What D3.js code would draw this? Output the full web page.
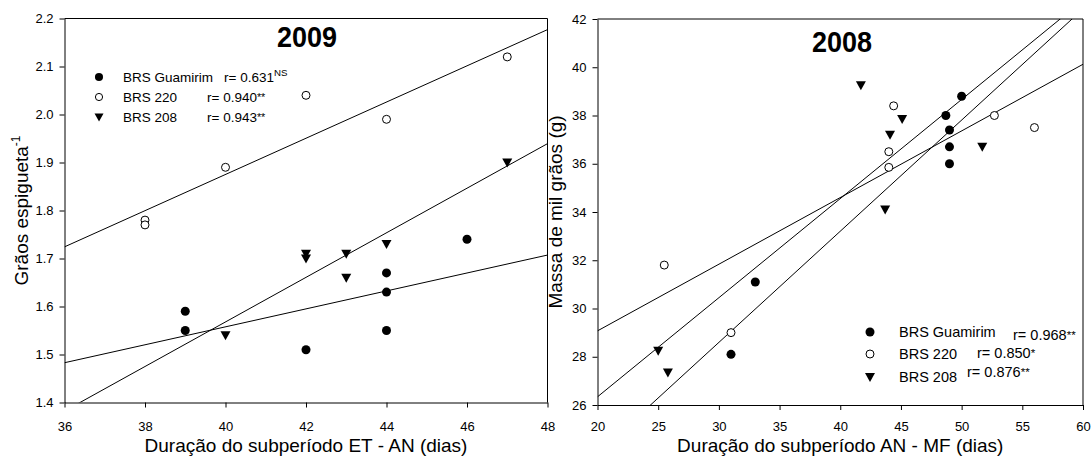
<!DOCTYPE html>
<html><head><meta charset="utf-8">
<script src="https://cdn.jsdelivr.net/npm/d3@7"></script>
<style>
body{margin:0;background:#fff}
svg{display:block;background:#fff}
text{font-family:Arial,"Liberation Sans",sans-serif;fill:#000}
</style>
</head><body>
<svg id="c" width="1091" height="459"></svg>
<script>
// ---------- DATA ----------
const seriesNames = ["BRS Guamirim", "BRS 220", "BRS 208"];

// 2009 panel: grains per spikelet vs ET-AN duration
const x2009Guamirim = [39, 39, 42, 44, 44, 44, 46];
const y2009Guamirim = [1.59, 1.55, 1.51, 1.67, 1.63, 1.55, 1.74];
const x2009BRS220 = [38, 38, 40, 42, 44, 47];
const y2009BRS220 = [1.78, 1.77, 1.89, 2.04, 1.99, 2.12];
const x2009BRS208 = [40, 42, 42, 43, 43, 44, 47];
const y2009BRS208 = [1.54, 1.71, 1.70, 1.71, 1.66, 1.73, 1.90];
const r2009 = ["0.631", "0.940", "0.943"];
const sig2009 = ["NS", "**", "**"];
const xTicks2009 = [36, 38, 40, 42, 44, 46, 48];
const yTicks2009 = [1.4, 1.5, 1.6, 1.7, 1.8, 1.9, 2.0, 2.1, 2.2];

// 2008 panel: thousand grain mass vs AN-MF duration
const x2008Guamirim = [50, 48.7, 49, 49, 49, 33, 31];
const y2008Guamirim = [38.8, 38.0, 37.4, 36.7, 36.0, 31.1, 28.1];
const x2008BRS220 = [44.4, 44, 44, 52.7, 56, 25.5, 31];
const y2008BRS220 = [38.4, 36.5, 35.85, 38.0, 37.5, 31.8, 29.0];
const x2008BRS208 = [41.7, 45.1, 44.1, 51.7, 43.7, 25, 25.8];
const y2008BRS208 = [39.25, 37.85, 37.2, 36.7, 34.1, 28.25, 27.35];
const r2008 = ["0.968", "0.850", "0.876"];
const sig2008 = ["**", "*", "**"];
const xTicks2008 = [20, 25, 30, 35, 40, 45, 50, 55, 60];
const yTicks2008 = [26, 28, 30, 32, 34, 36, 38, 40, 42];

// ---------- DRAWING ----------
const svg = d3.select("#c");
const FONT = 'Arial,"Liberation Sans",sans-serif';

function fit(xs, ys) {
  const n = xs.length, mx = d3.mean(xs), my = d3.mean(ys);
  let sxy = 0, sxx = 0;
  for (let i = 0; i < n; i++) { sxy += (xs[i]-mx)*(ys[i]-my); sxx += (xs[i]-mx)**2; }
  const b = sxy / sxx; return { b, a: my - b*mx };
}

const triPath = "M-5,-4L5,-4L0,5Z";
function marker(g, kind, cx, cy, sc) {
  sc = sc || 1;
  if (kind === 0) g.append("circle").attr("cx", cx).attr("cy", cy).attr("r", 4.5*sc).attr("fill", "#000");
  else if (kind === 1) g.append("circle").attr("cx", cx).attr("cy", cy).attr("r", 4*sc)
      .attr("fill", "#fff").attr("stroke", "#000").attr("stroke-width", 1);
  else g.append("path").attr("d", triPath).attr("transform", `translate(${cx},${cy}) scale(${sc})`).attr("fill", "#000");
}

function panel(cfg) {
  const g = svg.append("g");
  const x = d3.scaleLinear().domain(cfg.xDom).range(cfg.xRange);
  const y = d3.scaleLinear().domain(cfg.yDom).range(cfg.yRange);
  const id = "clip" + cfg.key;
  svg.append("clipPath").attr("id", id).append("rect")
    .attr("x", cfg.xRange[0]).attr("y", cfg.yRange[1])
    .attr("width", cfg.xRange[1]-cfg.xRange[0]).attr("height", cfg.yRange[0]-cfg.yRange[1]);

  // frame (top & right)
  g.append("path").attr("d", `M${cfg.xRange[0]},${cfg.yRange[1]}H${cfg.xRange[1]}V${cfg.yRange[0]}`)
    .attr("fill", "none").attr("stroke", "#000").attr("stroke-width", 1);

  const xa = g.append("g").attr("transform", `translate(0,${cfg.yRange[0]})`)
    .call(d3.axisBottom(x).tickValues(cfg.xTicks).tickFormat(d3.format("d")).tickSize(5).tickSizeOuter(0).tickPadding(cfg.xPad));
  const ya = g.append("g").attr("transform", `translate(${cfg.xRange[0]},0)`)
    .call(d3.axisLeft(y).tickValues(cfg.yTicks).tickFormat(cfg.yFmt).tickSize(5).tickSizeOuter(0).tickPadding(6));
  [xa, ya].forEach(a => {
    a.selectAll("path,line").attr("stroke", "#000").attr("stroke-width", 1);
    a.selectAll("text").attr("font-family", FONT).attr("font-size", 13).attr("fill", "#000");
  });

  // regression lines
  const lg = g.append("g").attr("clip-path", `url(#${id})`);
  cfg.series.forEach(s => {
    const f = fit(s.x, s.y);
    lg.append("line")
      .attr("x1", x(cfg.xDom[0])).attr("y1", y(f.a + f.b*cfg.xDom[0]))
      .attr("x2", x(cfg.xDom[1])).attr("y2", y(f.a + f.b*cfg.xDom[1]))
      .attr("stroke", "#000").attr("stroke-width", 1);
  });
  // points
  const pg = g.append("g");
  cfg.series.forEach((s, k) => s.x.forEach((v, i) => marker(pg, k, x(v), y(s.y[i]))));

  // title
  g.append("text").attr("x", cfg.titlePos[0]).attr("y", cfg.titlePos[1]).attr("text-anchor", "middle")
    .attr("font-size", 30).attr("font-weight", "bold")
    .attr("textLength", 60).attr("lengthAdjust", "spacingAndGlyphs").text(cfg.title);

  // axis titles
  g.append("text").attr("x", (cfg.xRange[0]+cfg.xRange[1])/2).attr("y", 452)
    .attr("text-anchor", "middle").attr("font-size", 19).text(cfg.xLabel);
  const yt = g.append("text").attr("transform", `translate(${cfg.yLabelX},${(cfg.yRange[0]+cfg.yRange[1])/2}) rotate(-90)`)
    .attr("text-anchor", "middle").attr("font-size", 19);
  yt.append("tspan").text(cfg.yLabel);
  if (cfg.yLabelSup) yt.append("tspan").attr("font-size", 12).attr("dy", -8).text(cfg.yLabelSup);

  // legend
  const L = cfg.legend;
  seriesNames.forEach((nm, k) => {
    const cy = L.rows[k];
    marker(g, k, L.mx, cy, L.msc);
    g.append("text").attr("x", L.tx).attr("y", cy + L.fs*0.36).attr("font-size", L.fs).text(nm);
    const t = g.append("text").attr("x", L.rx[k]).attr("y", cy + L.fs*0.36 + L.rdy[k]).attr("font-size", L.fs);
    t.append("tspan").text("r= " + cfg.r[k]);
    const sg = cfg.sig[k];
    if (sg === "NS") t.append("tspan").attr("font-size", L.fs*0.72).attr("dy", -6).text(sg);
    else t.append("tspan").attr("font-size", L.fs*0.8).attr("dy", -1).text(sg);
  });
}

panel({
  key: "a", xDom: [36, 48], yDom: [1.4, 2.2], xRange: [64.5, 547.5], yRange: [402.5, 18.5],
  xTicks: xTicks2009, yTicks: yTicks2009, yFmt: d3.format(".1f"), xPad: 14,
  series: [{x: x2009Guamirim, y: y2009Guamirim}, {x: x2009BRS220, y: y2009BRS220}, {x: x2009BRS208, y: y2009BRS208}],
  title: "2009", titlePos: [307, 47],
  xLabel: "Duração do subperíodo ET - AN (dias)",
  yLabel: "Grãos espigueta", yLabelSup: "-1", yLabelX: 28,
  r: r2009, sig: sig2009,
  legend: { mx: 99, tx: 123, rows: [77, 97, 117], rx: [224, 207, 207], rdy: [0, 0, 0], fs: 13.5, msc: 0.9 }
});

panel({
  key: "b", xDom: [20, 60], yDom: [26, 42], xRange: [597.5, 1083], yRange: [405, 19],
  xTicks: xTicks2008, yTicks: yTicks2008, yFmt: d3.format("d"), xPad: 12,
  series: [{x: x2008Guamirim, y: y2008Guamirim}, {x: x2008BRS220, y: y2008BRS220}, {x: x2008BRS208, y: y2008BRS208}],
  title: "2008", titlePos: [842, 52],
  xLabel: "Duração do subperíodo AN - MF (dias)",
  yLabel: "Massa de mil grãos (g)", yLabelX: 562,
  r: r2008, sig: sig2008,
  legend: { mx: 870, tx: 899, rows: [332, 354, 377], rx: [1013, 977, 967], rdy: [3, -1, -5], fs: 14.5, msc: 1 }
});
</script>
</body></html>
